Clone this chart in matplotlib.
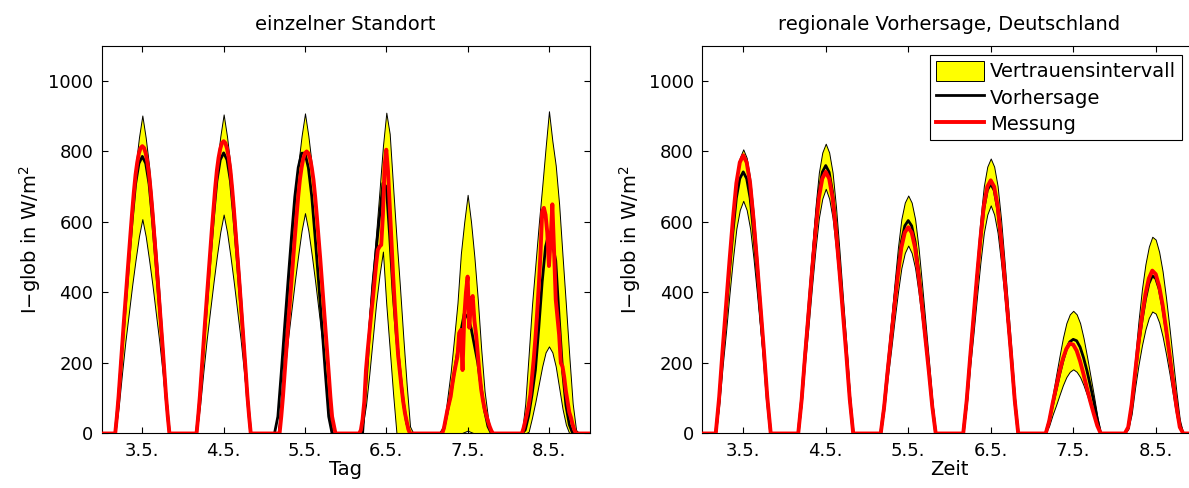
import matplotlib
matplotlib.use('Agg')
import matplotlib.pyplot as plt
from matplotlib.patches import Patch
from matplotlib.lines import Line2D

# days shown (May), ticks at noon
days = [3, 4, 5, 6, 7, 8]
xtick_labels = ['3.5.', '4.5.', '5.5.', '6.5.', '7.5.', '8.5.']
hours = list(range(4, 21))                      # hourly values 4..20 h
half_hours = [4 + 0.5 * i for i in range(33)]   # half-hourly values 4..20 h

# ---- einzelner Standort ----
left_upper = [
    [0, 117, 262, 406, 532, 649, 758, 839, 902, 839, 758, 649, 532, 406, 262, 117, 0],
    [0, 118, 262, 407, 534, 652, 760, 842, 905, 842, 760, 652, 534, 407, 262, 118, 0],
    [0, 118, 263, 409, 536, 654, 763, 844, 908, 844, 763, 654, 536, 409, 263, 118, 0],
    [0, 50, 200, 340, 455, 569, 690, 815, 910, 850, 700, 555, 420, 275, 140, 20, 0],
    [0, 25, 100, 175, 270, 370, 510, 600, 677, 600, 500, 380, 240, 120, 45, 0, 0],
    [0, 85, 223, 365, 480, 595, 700, 810, 914, 830, 760, 650, 505, 365, 220, 85, 10],
]
left_lower = [
    [0, 73, 170, 261, 340, 420, 492, 559, 608, 559, 492, 420, 340, 261, 170, 73, 0],
    [0, 75, 174, 267, 348, 428, 503, 571, 621, 571, 503, 428, 348, 267, 174, 75, 0],
    [0, 75, 175, 269, 350, 431, 506, 575, 625, 575, 506, 431, 350, 269, 175, 75, 0],
    [0, 20, 80, 170, 270, 370, 450, 516, 365, 240, 113, 0, 0, 0, 0, 0, 0],
    [0, 0, 0, 0, 0, 0, 0, 4, 8, 4, 0, 0, 0, 0, 0, 0, 0],
    [0, 0, 5, 45, 90, 140, 190, 230, 247, 230, 190, 130, 70, 25, 0, 0, 0],
]
left_forecast = [
    [0, 102, 236, 362, 487, 605, 707, 766, 786, 766, 707, 605, 487, 362, 236, 102, 0],
    [0, 103, 239, 366, 494, 613, 716, 776, 796, 776, 716, 613, 494, 366, 239, 103, 0],
    [48, 172, 304, 432, 556, 672, 754, 795, 795, 754, 672, 556, 432, 304, 172, 48, 0],
    [0, 0, 140, 285, 420, 520, 616, 710, 700, 560, 400, 275, 180, 90, 30, 0, 0],
    [0, 15, 60, 110, 170, 230, 290, 340, 330, 300, 250, 200, 130, 65, 20, 0, 0],
    [0, 10, 50, 110, 180, 300, 430, 530, 569, 540, 490, 330, 180, 80, 25, 0, 0],
]
left_measured = [
    [0, 49, 106, 175, 245, 310, 375, 440, 505, 566, 628, 685, 734, 769, 795, 810, 815,
     810, 795, 769, 734, 685, 628, 566, 505, 440, 375, 310, 245, 175, 106, 49, 0],
    [0, 50, 108, 178, 249, 315, 381, 448, 514, 576, 638, 696, 746, 782, 808, 824, 829,
     824, 808, 782, 746, 696, 638, 576, 514, 448, 381, 315, 249, 178, 108, 50, 0],
    [0, 0, 48, 104, 172, 240, 304, 368, 432, 496, 556, 616, 672, 720, 754, 780, 795,
     800, 795, 780, 754, 720, 672, 616, 556, 496, 432, 368, 304, 240, 172, 104, 48],
    [0, 10, 40, 90, 180, 235, 285, 335, 379, 430, 480, 521, 530, 535, 620, 760, 805,
     745, 650, 550, 450, 365, 290, 220, 175, 130, 90, 58, 35, 12, 0, 0, 0],
    [0, 0, 15, 40, 65, 85, 105, 140, 170, 195, 218, 285, 294, 180, 330, 400, 445,
     300, 380, 390, 320, 280, 225, 170, 125, 95, 70, 52, 35, 20, 8, 0, 0],
    [0, 15, 35, 55, 80, 110, 160, 210, 270, 340, 420, 510, 630, 640, 620, 570, 475,
     550, 650, 520, 380, 330, 280, 200, 190, 160, 120, 90, 60, 45, 25, 10, 0],
]

# ---- regionale Vorhersage, Deutschland ----
right_upper = [
    [0, 113, 250, 379, 508, 629, 725, 782, 806, 782, 725, 629, 508, 379, 250, 113, 0],
    [0, 115, 255, 386, 518, 641, 740, 797, 822, 797, 740, 641, 518, 386, 255, 115, 0],
    [0, 95, 209, 317, 425, 527, 608, 655, 675, 655, 608, 527, 425, 317, 209, 95, 0],
    [0, 109, 242, 367, 491, 608, 702, 757, 780, 757, 702, 608, 491, 367, 242, 109, 0],
    [0, 49, 108, 164, 219, 271, 313, 338, 348, 338, 313, 271, 219, 164, 108, 49, 0],
    [20, 100, 215, 320, 410, 480, 530, 558, 550, 515, 460, 385, 300, 210, 120, 40, 0],
]
right_lower = [
    [0, 79, 191, 290, 396, 495, 581, 634, 660, 634, 581, 495, 396, 290, 191, 79, 0],
    [0, 83, 201, 305, 416, 521, 611, 666, 694, 666, 611, 521, 416, 305, 201, 83, 0],
    [0, 64, 155, 235, 320, 400, 469, 512, 533, 512, 469, 400, 320, 235, 155, 64, 0],
    [0, 78, 188, 285, 388, 485, 569, 621, 647, 621, 569, 485, 388, 285, 188, 78, 0],
    [0, 22, 53, 80, 109, 137, 160, 175, 182, 175, 160, 137, 109, 80, 53, 22, 0],
    [12, 55, 130, 195, 250, 295, 328, 346, 340, 315, 275, 225, 170, 110, 50, 12, 0],
]
right_forecast = [
    [0, 96, 223, 341, 460, 571, 668, 723, 742, 723, 668, 571, 460, 341, 223, 96, 0],
    [0, 99, 228, 350, 471, 585, 684, 741, 760, 741, 684, 585, 471, 350, 228, 99, 0],
    [0, 79, 181, 278, 374, 465, 544, 589, 604, 589, 544, 465, 374, 278, 181, 79, 0],
    [0, 92, 212, 326, 439, 545, 637, 690, 708, 690, 637, 545, 439, 326, 212, 92, 0],
    [0, 35, 80, 123, 166, 206, 240, 260, 267, 263, 245, 215, 178, 135, 90, 40, 0],
    [15, 78, 165, 250, 320, 380, 425, 447, 440, 410, 360, 295, 225, 155, 85, 25, 0],
]
right_measured = [
    [0, 103, 237, 363, 489, 608, 710, 769, 789, 769, 710, 608, 489, 363, 237, 103, 0],
    [0, 96, 223, 341, 460, 571, 668, 723, 742, 723, 668, 571, 460, 341, 223, 96, 0],
    [0, 76, 176, 269, 363, 450, 527, 570, 585, 570, 527, 450, 363, 269, 176, 76, 0],
    [0, 93, 215, 330, 445, 553, 646, 700, 718, 700, 646, 553, 445, 330, 215, 93, 0],
    [0, 35, 85, 130, 175, 212, 240, 255, 252, 235, 205, 168, 128, 90, 55, 22, 0],
    [18, 82, 172, 258, 332, 395, 440, 462, 452, 418, 365, 298, 225, 150, 78, 18, 0],
]


def to_series(rows, grid):
    # join the daily values to one time series (days as x), zero at night
    x, y = [days[0]], [0]
    for d, row in zip(days, rows):
        x.append(d + (grid[0] - 1) / 24)
        y.append(0)
        x += [d + h / 24 for h in grid]
        y += list(row)
        x.append(d + (grid[-1] + 1) / 24)
        y.append(0)
    x.append(days[-1] + 1)
    y.append(0)
    return x, y


plt.rcParams['font.family'] = 'DejaVu Sans'
plt.rcParams['font.size'] = 13

fig = plt.figure(figsize=(11.89, 4.88), dpi=100)
ax1 = fig.add_axes([0.0855, 0.1117, 0.4104, 0.7947])
ax2 = fig.add_axes([0.5904, 0.1117, 0.4163, 0.7947])

panels = [
    (ax1, left_upper, left_lower, left_forecast, left_measured, half_hours,
     'einzelner Standort', 'Tag'),
    (ax2, right_upper, right_lower, right_forecast, right_measured, hours,
     'regionale Vorhersage, Deutschland', 'Zeit'),
]

for ax, up, lo, fc, me, me_grid, title, xlabel in panels:
    xu, yu = to_series(up, hours)
    xl, yl = to_series(lo, hours)
    xf, yf = to_series(fc, hours)
    xm, ym = to_series(me, me_grid)
    ax.fill_between(xu, yl, yu, facecolor='#ffff00', edgecolor='black',
                    linewidth=0.7, zorder=1)
    ax.plot(xf, yf, color='black', linewidth=2.0, zorder=2)
    ax.plot(xm, ym, color='#ff0000', linewidth=2.8, zorder=3)

    ax.set_xlim(days[0], days[-1] + 1)
    ax.set_ylim(0, 1100)
    ax.set_xticks([d + 0.5 for d in days])
    ax.set_xticklabels(xtick_labels)
    ax.set_yticks([0, 200, 400, 600, 800, 1000])
    ax.tick_params(direction='in', top=True, right=True, length=4,
                   labelsize=13, pad=6)
    ax.set_title(title, fontsize=14, pad=11)
    ax.set_xlabel(xlabel, fontsize=14, labelpad=0)
    ax.set_ylabel('I\u2212glob in W/m$^2$', fontsize=14, labelpad=4)
    for s in ax.spines.values():
        s.set_linewidth(0.8)

handles = [
    Patch(facecolor='#ffff00', edgecolor='black', linewidth=0.7),
    Line2D([], [], color='black', linewidth=2.0),
    Line2D([], [], color='#ff0000', linewidth=2.8),
]
leg = ax2.legend(handles, ['Vertrauensintervall', 'Vorhersage', 'Messung'],
                 loc='upper right', bbox_to_anchor=(0.970, 0.976),
                 borderaxespad=0, fancybox=False, edgecolor='black',
                 framealpha=1, fontsize=14, handlelength=2.5,
                 handleheight=1.2, handletextpad=0.3, labelspacing=0.3,
                 borderpad=0.3)
leg.get_frame().set_linewidth(0.8)

fig.savefig('out.png', dpi=100)
